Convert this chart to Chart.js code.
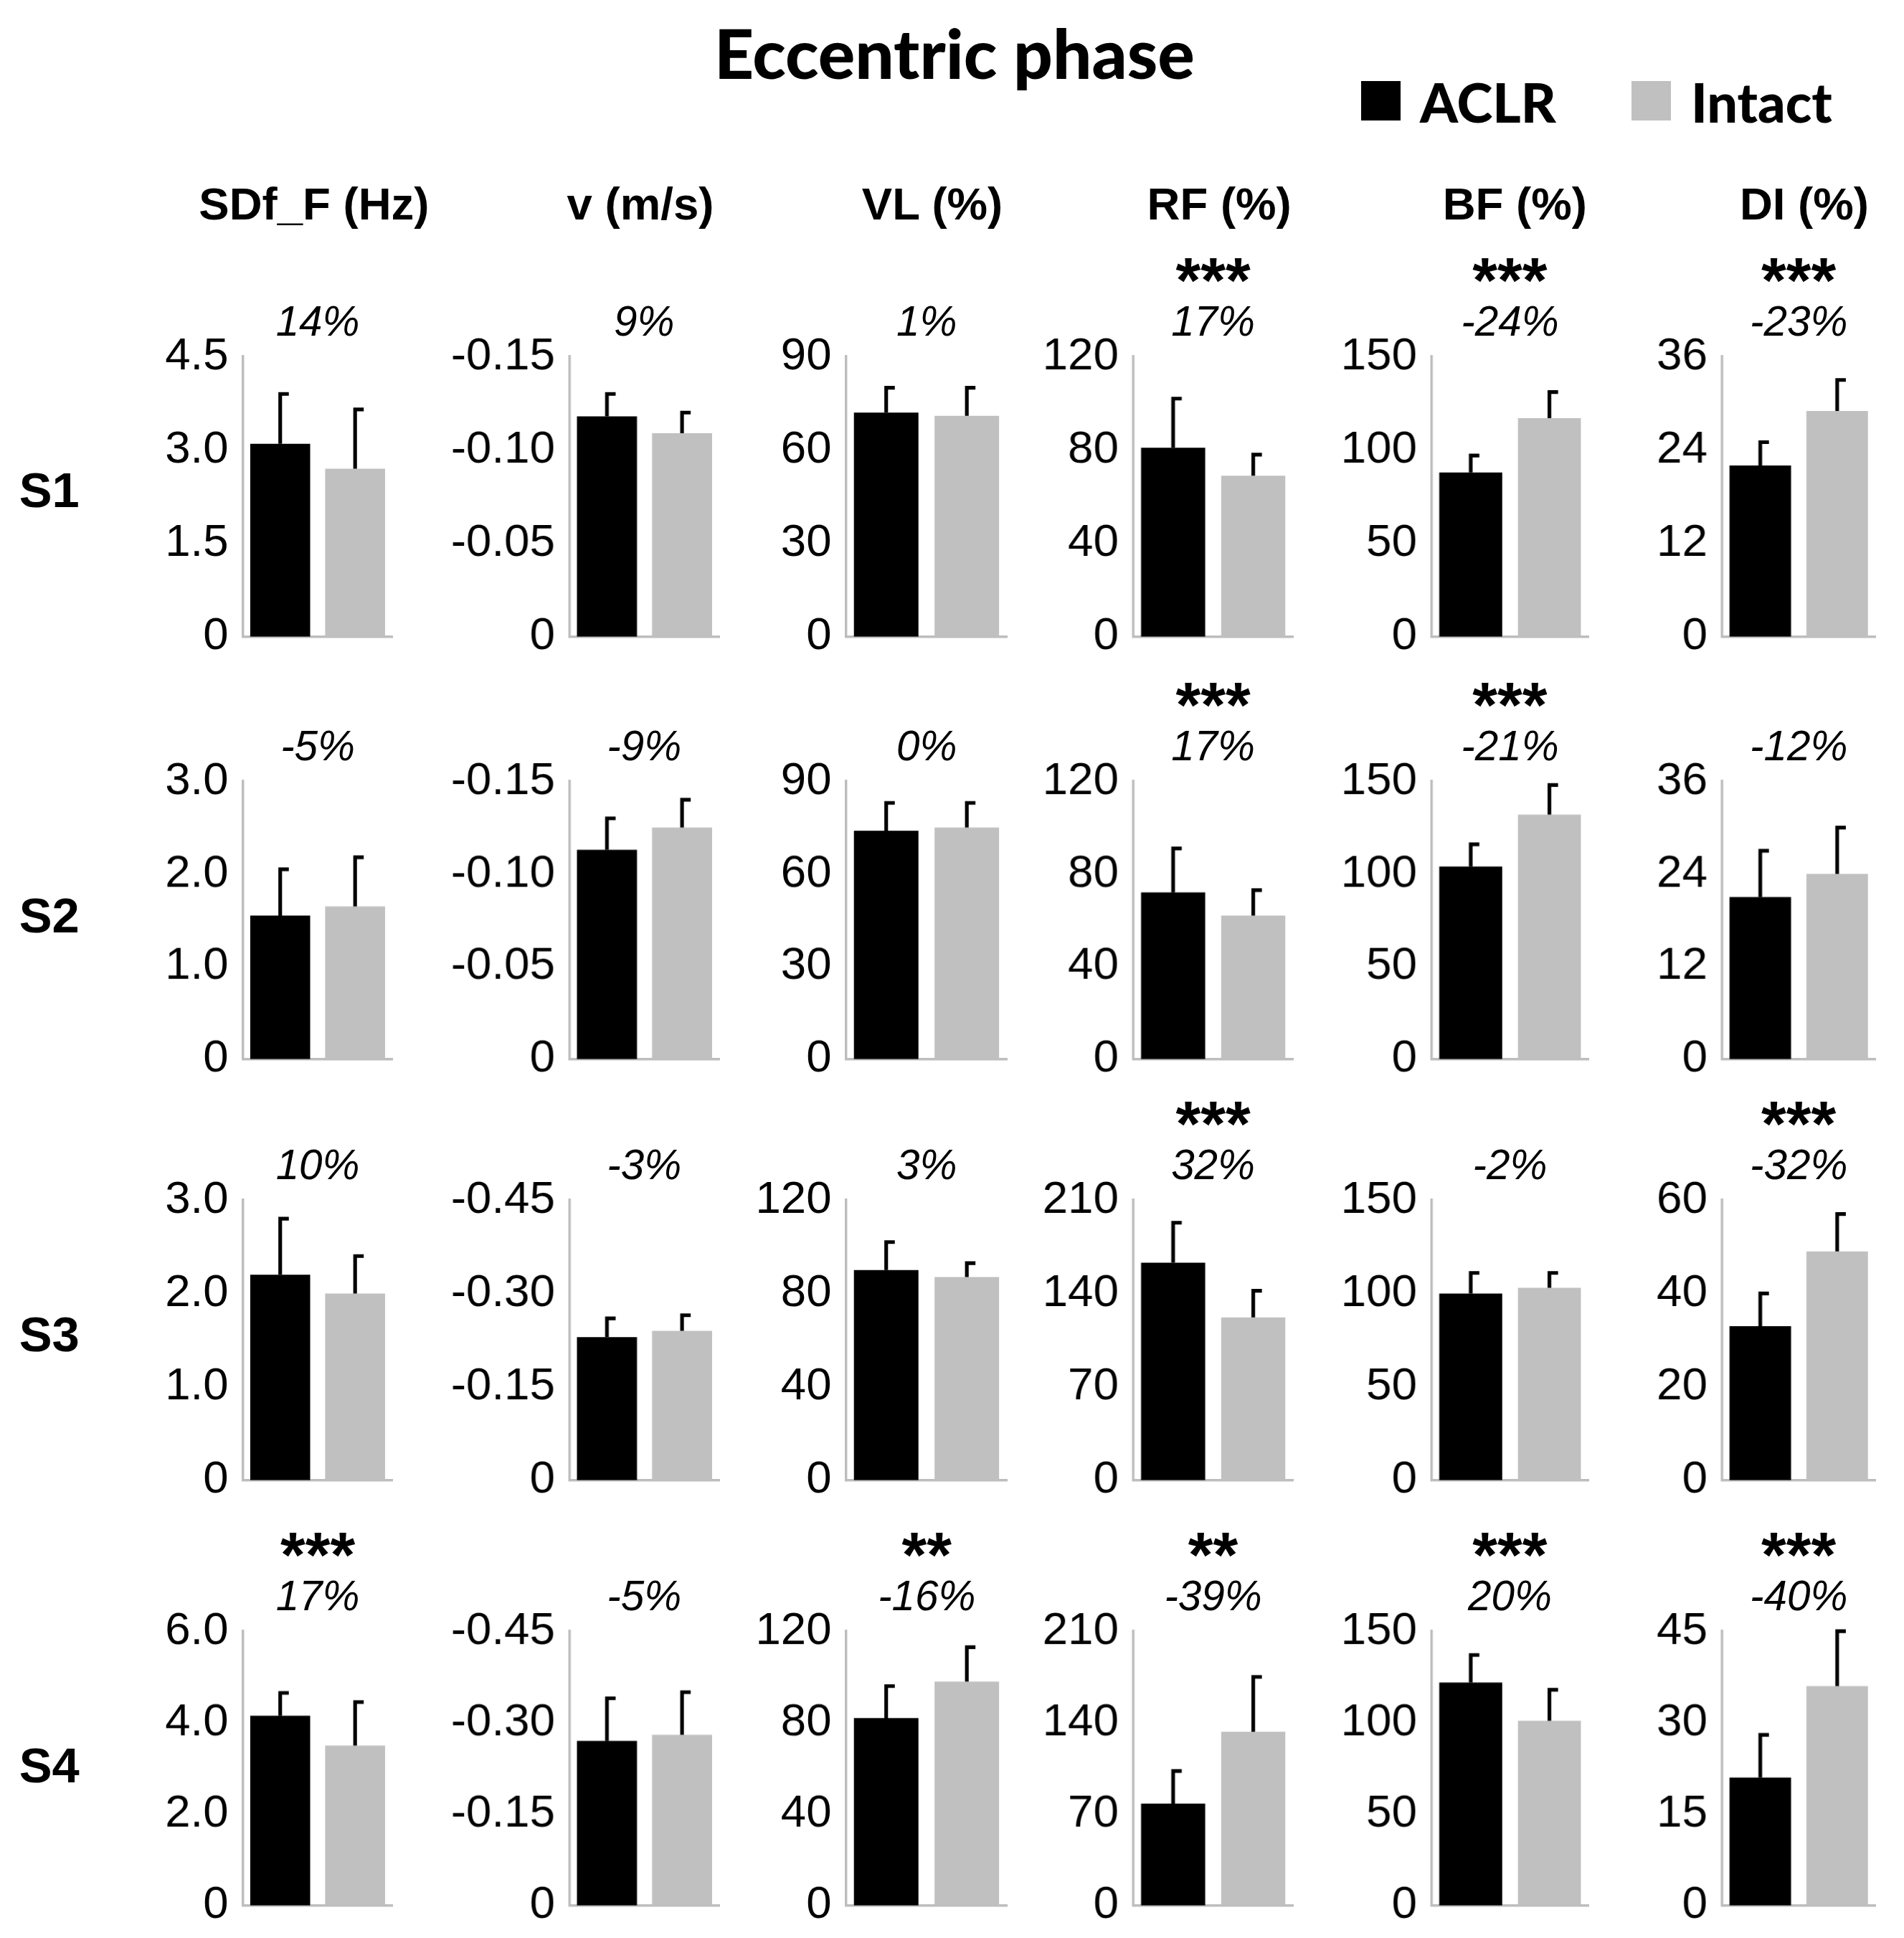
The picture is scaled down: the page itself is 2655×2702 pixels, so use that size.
<!DOCTYPE html>
<html><head><meta charset="utf-8">
<script src="https://cdn.jsdelivr.net/npm/chart.js@4"></script>
<style>
body{margin:0;background:#fff;width:2655px;height:2702px;position:relative;overflow:hidden;font-family:"Liberation Sans",Arial,sans-serif}
.t{position:absolute;white-space:nowrap;color:#000}
canvas{position:absolute}
</style></head><body>
<script>
const S=2655/1546;
const rowLabels=["S1","S2","S3","S4"];
const colTitles=["SDf_F (Hz)","v (m/s)","VL (%)","RF (%)","BF (%)","DI (%)"];
const categories=["ACLR","Intact"];
// per row, per column
const aclr=[[3.1,0.118,72,81,88,22],[1.55,0.113,74,72,104,21],[2.2,0.23,90,163,100,33],[4.15,0.27,82,78,122,21]];
const intact=[[2.7,0.109,71,69,117,29],[1.65,0.125,75,62,132,24],[2.0,0.24,87,122,103,49],[3.5,0.28,98,133,101,36]];
const aclrTop=[[3.9,0.13,80,102,97,25],[2.05,0.13,83,91,116,27],[2.8,0.26,102,193,111,40],[4.65,0.34,96,103,137,28]];
const intactTop=[[3.65,0.12,80,78,131,33],[2.18,0.14,83,73,148,30],[2.4,0.265,93,142,111,57],[4.45,0.35,113,175,118,45]];
const yMax=[[4.5,0.15,90,120,150,36],[3.0,0.15,90,120,150,36],[3.0,0.45,120,210,150,60],[6.0,0.45,120,210,150,45]];
const tickDec=[1,2,0,0,0,0];
const tickNeg=[false,true,false,false,false,false];
const pct=[["14%","9%","1%","17%","-24%","-23%"],["-5%","-9%","0%","17%","-21%","-12%"],["10%","-3%","3%","32%","-2%","-32%"],["17%","-5%","-16%","-39%","20%","-40%"]];
const stars=[["","","","***","***","***"],["","","","***","***",""],["","","","***","","***"],["***","","**","**","***","***"]];

const L=[197,462,687,920,1162,1398], W=[122,122,131,130,128,125];
const T=[285,630,970,1320], H=[230,228,230,225];
const colX=[255,520,757,990,1230,1465];

function txt(s,x,y,size,opt={}){
  const d=document.createElement('div');d.className='t';d.textContent=s;
  d.style.fontSize=(size*S)+'px';d.style.fontWeight=opt.w||'normal';
  if(opt.i)d.style.fontStyle='italic';if(opt.f)d.style.fontFamily=opt.f;
  d.style.left=(x*S)+'px';d.style.top=(y*S)+'px';
  d.style.transform='translate('+(opt.ax===undefined?-50:opt.ax)+'%,-50%)';
  document.body.appendChild(d);
}
txt("Eccentric phase",775,42,56,{w:'900',f:'Lato'});
function box(x,y,c){const d=document.createElement('div');d.style.cssText=`position:absolute;left:${x*S}px;top:${y*S}px;width:${32*S}px;height:${32*S}px;background:${c}`;document.body.appendChild(d);}
box(1105,66,'#000');txt("ACLR",1153,82,44,{w:'900',ax:0,f:'Lato'});
box(1325,66,'#c0c0c0');txt("Intact",1373,82,44,{w:'900',ax:0,f:'Lato'});
colTitles.forEach((c,i)=>txt(c,colX[i],165,37,{w:'bold'}));
rowLabels.forEach((r,i)=>txt(r,40,T[i]+113,40,{w:'bold'}));

const errPlugin={id:'err',afterDatasetsDraw(ch,a,o){
  const ctx=ch.ctx,y=ch.scales.y,meta=ch.getDatasetMeta(0);
  o.tops.forEach((v,i)=>{const b=meta.data[i];const x=b.x;const y0=y.getPixelForValue(o.vals[i]);const y1=y.getPixelForValue(v);
    ctx.save();ctx.strokeStyle='#000';ctx.lineWidth=3*S;ctx.beginPath();ctx.moveTo(x,y0);ctx.lineTo(x,y1);
    ctx.moveTo(x-1.5*S,y1);ctx.lineTo(x+7*S,y1);ctx.stroke();ctx.restore();});
}};
const LW=115,PT=25,PB=8,EXTRA=23;
for(let r=0;r<4;r++)for(let c=0;c<6;c++){
  const cv=document.createElement('canvas');
  const w=LW+W[c]+5,h=PT+H[r]+PB+EXTRA;
  const wrap=document.createElement('div');wrap.style.cssText=`position:absolute;left:${(L[c]-LW)*S}px;top:${(T[r]-PT)*S}px;width:${w*S}px;height:${h*S}px`;
  cv.style.width=(w*S)+'px';cv.style.height=(h*S)+'px';
  cv.style.left='0';cv.style.top='0';wrap.appendChild(cv);document.body.appendChild(wrap);
  const mx=yMax[r][c];
  new Chart(cv,{type:'bar',data:{labels:categories,datasets:[{data:[aclr[r][c],intact[r][c]],backgroundColor:['#000','#c0c0c0'],barPercentage:0.8,categoryPercentage:1}]},
   options:{responsive:false,animation:false,devicePixelRatio:1,layout:{padding:{top:PT*S,bottom:PB*S,left:0,right:5*S}},
    plugins:{legend:{display:false},tooltip:{enabled:false},err:{vals:[aclr[r][c],intact[r][c]],tops:[aclrTop[r][c],intactTop[r][c]]}},
    scales:{x:{grid:{display:false},ticks:{display:false},border:{color:'#bdbdbd',width:2*S},afterFit(s){s.height=0;}},
     y:{min:0,max:mx,afterFit(s){s.width=LW*S;},grid:{display:false},border:{color:'#bdbdbd',width:2*S},
      afterBuildTicks(s){s.ticks=[0,1,2,3].map(k=>({value:mx*k/3}));},
      ticks:{padding:7*S,color:'#000',font:{size:37*S,family:'Liberation Sans'},
       callback:(v)=>v===0?'0':(tickNeg[c]?'-':'')+v.toFixed(tickDec[c])}}}},
   plugins:[errPlugin]});
  const cx=L[c]+W[c]/2;
  txt(pct[r][c],cx,T[r]-25,34,{i:true});
  if(stars[r][c])txt(stars[r][c],cx,T[r]-58,52,{w:'bold'});
}
</script></body></html>
